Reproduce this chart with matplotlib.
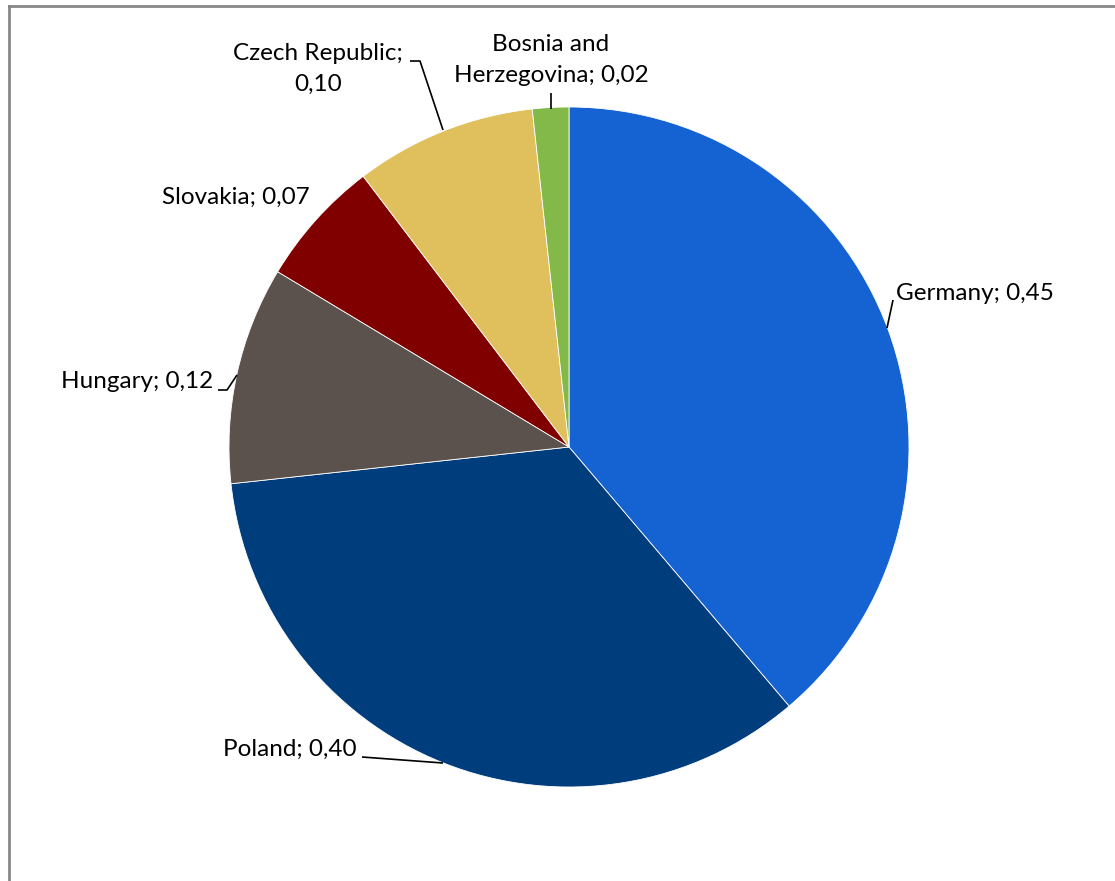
import matplotlib
matplotlib.use("Agg")
import matplotlib.pyplot as plt
from matplotlib.lines import Line2D

plt.rcParams['font.family'] = ['Lato', 'DejaVu Sans']

countries = ["Germany", "Poland", "Hungary", "Slovakia", "Czech Republic", "Bosnia and Herzegovina"]
values = [0.45, 0.40, 0.12, 0.07, 0.10, 0.02]
colors = ["#1562D3", "#003D7D", "#5B524E", "#800000", "#E0C05C", "#82B948"]
label_texts = ["Germany; 0,45", "Poland; 0,40", "Hungary; 0,12", "Slovakia; 0,07",
               "Czech Republic;\n0,10", "Bosnia and\nHerzegovina; 0,02"]

W, H = 1115, 881
fig = plt.figure(figsize=(W / 100, H / 100), dpi=100)
cx, cy, R = 569, 447, 340
ax = fig.add_axes([(cx - R) / W, (H - cy - R) / H, 2 * R / W, 2 * R / H])
ax.pie(values, colors=colors, startangle=90, counterclock=False, radius=1,
       wedgeprops=dict(edgecolor="white", linewidth=0.6))
ax.set_xlim(-1, 1)
ax.set_ylim(-1, 1)
ax.set_aspect("equal")
ax.axis("off")

def px(x, y):
    return ((x - cx) / R, (cy - y) / R)

fs = 17.5
# label positions (pixel layout) and leader lines
layout = [
    ((896, 293), "left", [(887, 328), (893, 300)]),
    ((357, 749), "right", [(362, 757), (443, 763)]),
    ((213, 381), "right", [(218, 390), (227, 390), (237, 375)]),
    ((310, 197), "right", None),
    ((318, 69), "center", [(410, 61), (420, 61), (443, 130)]),
    ((551, 60), "center", [(551, 93), (551, 109)]),
]
for txt, (tpos, ha, lead) in zip(label_texts, layout):
    x, y = px(*tpos)
    ax.text(x, y, txt, ha=ha, va="center", fontsize=fs, color="black",
            linespacing=1.62, clip_on=False)
    if lead:
        pts = [px(*p) for p in lead]
        ax.plot([p[0] for p in pts], [p[1] for p in pts], color="black", lw=1.2,
                clip_on=False, solid_capstyle="butt")

# chart-area border (cropped at right/bottom)
fig.add_artist(Line2D([8.5 / W, 8.5 / W], [0, 1 - 5.5 / H], transform=fig.transFigure,
                      color="#888888", lw=2))
fig.add_artist(Line2D([8.5 / W, 1], [1 - 5.5 / H, 1 - 5.5 / H], transform=fig.transFigure,
                      color="#888888", lw=2))

fig.savefig("out.png", dpi=100)
